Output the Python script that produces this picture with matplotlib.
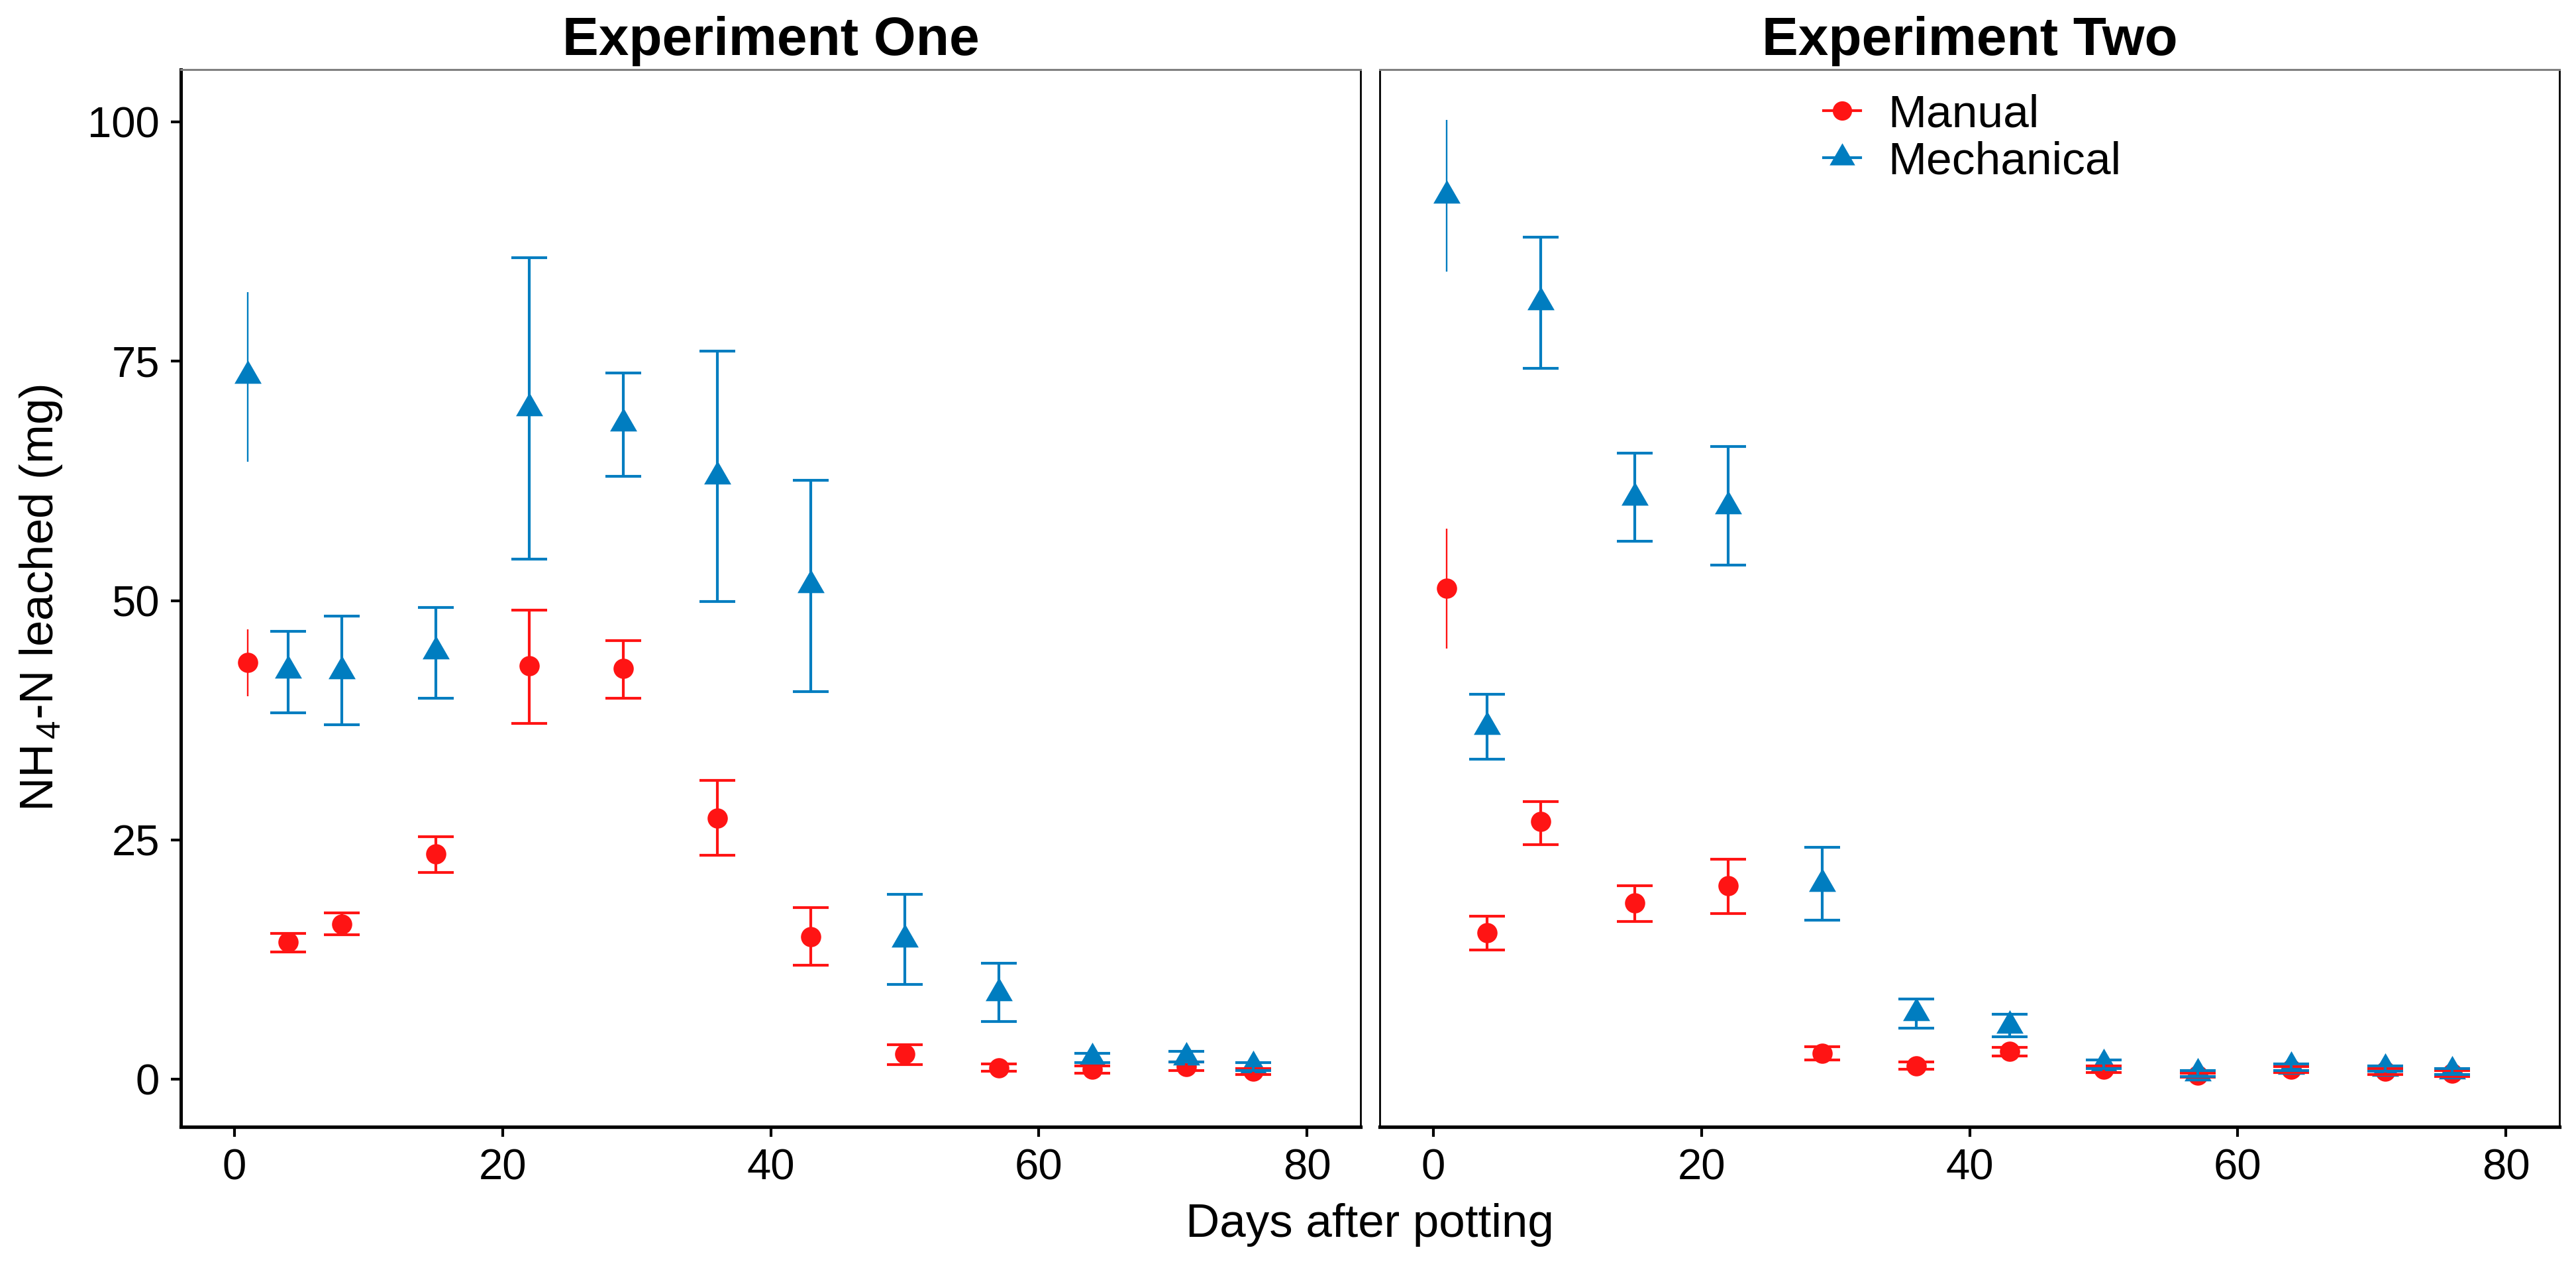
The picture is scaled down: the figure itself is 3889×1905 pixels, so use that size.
import matplotlib
matplotlib.use("Agg")
import matplotlib.pyplot as plt
from matplotlib.lines import Line2D

plt.rcParams['font.family'] = ['Liberation Sans', 'DejaVu Sans']
plt.rcParams['mathtext.fontset'] = 'custom'
plt.rcParams['mathtext.rm'] = 'Liberation Sans'
plt.rcParams['mathtext.it'] = 'Liberation Sans:italic'

days = [1, 4, 8, 15, 22, 29, 36, 43, 50, 57, 64, 71, 76]

# Experiment One
man1 = [43.5, 14.3, 16.2, 23.5, 43.2, 42.9, 27.3, 14.9, 2.6, 1.2, 1.0, 1.3, 0.8]
man1_lo = [40.0, 13.3, 15.1, 21.6, 37.2, 39.8, 23.4, 11.9, 1.5, 0.8, 0.6, 0.9, 0.5]
man1_hi = [47.0, 15.2, 17.4, 25.3, 49.0, 45.8, 31.2, 17.9, 3.6, 1.6, 1.4, 1.8, 1.1]
mech1 = [73.5, 42.7, 42.6, 44.7, 70.1, 68.5, 63.0, 51.6, 14.6, 9.0, 2.2, 2.3, 1.4]
mech1_lo = [64.5, 38.3, 37.0, 39.8, 54.3, 63.0, 49.9, 40.5, 9.9, 6.0, 1.7, 1.8, 0.9]
mech1_hi = [82.2, 46.8, 48.4, 49.3, 85.8, 73.8, 76.1, 62.6, 19.3, 12.1, 2.7, 2.9, 1.7]

# Experiment Two
man2 = [51.3, 15.3, 26.9, 18.4, 20.2, 2.7, 1.4, 2.9, 1.0, 0.4, 1.0, 0.8, 0.6]
man2_lo = [45.0, 13.5, 24.5, 16.5, 17.3, 2.0, 1.0, 2.4, 0.7, 0.2, 0.7, 0.5, 0.3]
man2_hi = [57.5, 17.0, 29.0, 20.2, 23.0, 3.4, 1.8, 3.3, 1.4, 0.6, 1.3, 1.1, 0.9]
mech2 = [92.3, 36.8, 81.2, 60.8, 59.9, 20.4, 6.9, 5.6, 1.6, 0.6, 1.3, 1.1, 0.8]
mech2_lo = [84.4, 33.4, 74.3, 56.2, 53.7, 16.6, 5.3, 4.4, 1.1, 0.3, 0.9, 0.8, 0.5]
mech2_hi = [100.2, 40.2, 88.0, 65.4, 66.1, 24.2, 8.4, 6.8, 2.0, 0.9, 1.6, 1.4, 1.1]

red = '#FF1414'
blue = '#007DC0'
tri = [(0, 1), (-0.866, -0.5), (0.866, -0.5)]  # equilateral, centred on centroid

fig = plt.figure(figsize=(38.89, 19.05), dpi=100)
ax1 = fig.add_axes([0.0702, 0.107, 0.458, 0.838])
ax2 = fig.add_axes([0.5356, 0.107, 0.458, 0.838], sharey=ax1)


def bars(ax, mean, lo, hi, color):
    yerr = [[m - l for m, l in zip(mean, lo)], [h - m for m, h in zip(mean, hi)]]
    # first sampling day: bar without caps
    ax.errorbar(days[:1], mean[:1], yerr=[yerr[0][:1], yerr[1][:1]], fmt='none',
                ecolor=color, elinewidth=1.7, capsize=0, zorder=4)
    ax.errorbar(days[1:], mean[1:], yerr=[yerr[0][1:], yerr[1][1:]], fmt='none',
                ecolor=color, elinewidth=3.0, capsize=19.5, capthick=3.0, zorder=4)


for ax, m, ml, mh, c, cl, ch, title in [
        (ax1, man1, man1_lo, man1_hi, mech1, mech1_lo, mech1_hi, 'Experiment One'),
        (ax2, man2, man2_lo, man2_hi, mech2, mech2_lo, mech2_hi, 'Experiment Two')]:
    ax.plot(days, m, linestyle='none', marker='o', ms=22, color=red,
            markeredgewidth=0, zorder=3)
    ax.plot(days, c, linestyle='none', marker=tri, ms=34, color=blue,
            markeredgewidth=0, zorder=3)
    bars(ax, m, ml, mh, red)
    bars(ax, c, cl, ch, blue)
    ax.set_xlim(-4, 84)
    ax.set_xticks([0, 20, 40, 60, 80])
    ax.set_title(title, fontsize=59, fontweight='bold', pad=16)
    ax.tick_params(axis='both', labelsize=47, length=11, width=3, colors='black', pad=12)
    ax.spines['bottom'].set_linewidth(3.8)
    ax.spines['top'].set_linewidth(2.2)
    ax.spines['top'].set_color('#808080')
    ax.spines['right'].set_linewidth(2)
    ax.spines['left'].set_linewidth(2)

ax1.spines['left'].set_linewidth(3.6)
ax1.set_ylim(-5, 105.5)
ax1.set_yticks([0, 25, 50, 75, 100])
ax2.tick_params(axis='y', left=False, labelleft=False)

fig.text(0.0206, 0.5265, r'NH$_{\,4}$-N leached (mg)', rotation=90, rotation_mode='anchor',
         ha='center', va='baseline', fontsize=51)
fig.text(0.5318, 0.02, 'Days after potting', ha='center', va='baseline', fontsize=51)

handles = [Line2D([], [], color=red, marker='o', ms=21, lw=3.0, markeredgewidth=0),
           Line2D([], [], color=blue, marker=tri, ms=32, lw=3.0, markeredgewidth=0)]
ax2.legend(handles, ['Manual', 'Mechanical'], loc='upper left',
           bbox_to_anchor=(0.3762, 0.977), frameon=False, fontsize=50,
           borderaxespad=0, borderpad=0, handlelength=0.8, handletextpad=0.6,
           labelspacing=0.1)

fig.savefig('out.png', dpi=100)
